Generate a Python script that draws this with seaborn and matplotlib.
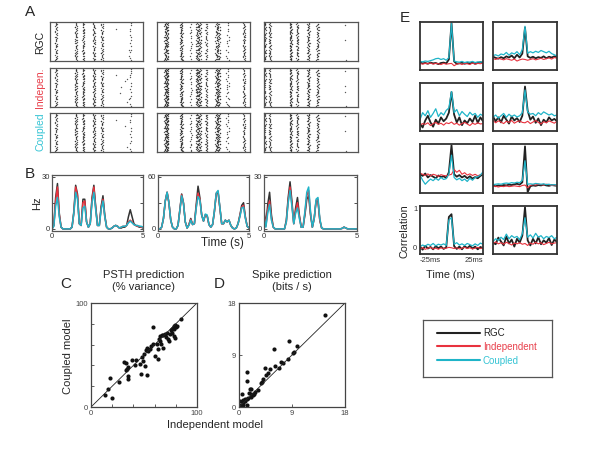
import numpy as np
import pandas as pd
import matplotlib
matplotlib.use('Agg')
import matplotlib.pyplot as plt
from matplotlib.lines import Line2D
import seaborn as sns

sns.set_style('white')
plt.rcParams['font.family'] = ['Liberation Sans', 'DejaVu Sans']

BLACK = '#222222'
RED = '#e8323e'
CYAN = '#1fb4c8'

# ---- A: raster stripes (time of each stripe, spikes per trial) ----
raster_times = [
    [0.32, 1.39, 1.79, 2.36, 2.79, 3.7, 4.32],
    [0.5, 1.31, 1.82, 2.22, 2.66, 3.26, 3.8, 4.68],
    [0.05, 0.3, 1.42, 1.78, 2.36, 2.85, 4.3],
]
raster_widths = [
    [0.06, 0.07, 0.06, 0.07, 0.07, 0.7, 0.07],
    [0.12, 0.07, 0.05, 0.15, 0.06, 0.13, 0.1, 0.07],
    [0.05, 0.06, 0.07, 0.06, 0.07, 0.07, 0.05],
]
raster_rgc = [
    [0.8, 0.9, 0.8, 0.9, 0.8, 0.05, 0.25],
    [1.8, 1.2, 0.3, 1.8, 0.6, 1.6, 0.3, 0.9],
    [0.8, 0.9, 1.2, 0.9, 1.0, 0.9, 0.05],
]
raster_ind = [
    [0.8, 1.0, 0.9, 1.0, 0.8, 0.2, 0.2],
    [2.2, 1.3, 0.3, 2.2, 0.7, 2.0, 0.4, 0.8],
    [0.6, 0.8, 1.1, 0.8, 1.1, 0.9, 0.08],
]
raster_cpl = [
    [0.8, 1.0, 0.9, 1.0, 0.8, 0.1, 0.2],
    [2.2, 1.3, 0.35, 2.0, 0.8, 2.0, 0.35, 0.8],
    [0.6, 0.8, 1.1, 0.8, 1.1, 0.9, 0.05],
]
JITTER = [-0.9, 0.3, -0.2, 0.8, -0.6, 0.0, 0.5, -0.4, 0.9, -0.1, 0.2, -0.7, 0.6, -0.3, 0.1]
N_TRIALS = 50

# ---- B: PSTH (Hz), sampled every 0.1 s from 0 to 5 s ----
psth_time = np.round(np.arange(51) * 0.1, 1)
psth_rgc = [
    [0, 2, 18, 26, 9, 1, 0, 0, 0, 0, 0, 1, 10, 25, 20, 3, 2, 17, 17, 4,
     1, 3, 18, 25, 13, 2, 2, 13, 19, 8, 1, 0, 0, 0.5, 1.5, 2, 1.5, 0.5, 0.5, 1,
     1, 2, 7, 11, 7, 3, 2, 1.5, 1, 1, 0.5],
    [0, 0, 2, 12, 32, 42, 30, 10, 2, 0, 0, 4, 22, 40, 30, 8, 1, 5, 12, 5,
     6, 28, 49, 36, 16, 9, 16, 15, 5, 2, 5, 20, 40, 42, 24, 6, 6, 10, 8, 10,
     4, 1, 0, 1, 6, 16, 27, 30, 14, 3, 1],
    [11, 2, 14, 21, 8, 1, 0, 0, 0, 0, 0, 0, 5, 18, 27, 16, 3, 12, 18, 8,
     1, 1, 8, 17, 19, 8, 1, 6, 16, 16, 5, 0.5, 0, 0, 0, 0, 0, 0, 0, 0,
     0, 0, 0.3, 1, 0.5, 0, 0, 0, 0, 0, 0],
]
psth_ind = [
    [0, 2, 16, 24, 8, 1, 0, 0, 0, 0, 0, 1, 9, 24, 19, 3, 2, 15, 16, 4,
     1, 3, 17, 24, 12, 2, 2, 12, 17, 7, 1, 0, 0, 0.5, 1.5, 2, 1.5, 0.5, 1, 1.5,
     1.5, 2, 4, 5, 4, 2.5, 2, 1.5, 1.5, 1, 1],
    [0, 0, 2, 12, 32, 42, 30, 10, 2, 0, 0, 4, 21, 39, 29, 8, 1, 5, 11, 5,
     6, 25, 41, 34, 16, 9, 16, 15, 5, 2, 5, 20, 41, 43, 24, 6, 6, 10, 8, 10,
     4, 1, 0, 1, 6, 15, 25, 27, 13, 3, 1],
    [9, 1.5, 11, 16, 6, 1, 0, 0, 0, 0, 0, 0, 4, 16, 24, 14, 3, 10, 15, 7,
     1, 1, 9, 19, 22, 9, 1, 6, 16, 17, 5, 0.5, 0, 0, 0, 0, 0, 0, 0, 0,
     0, 0, 0.3, 1, 0.5, 0, 0, 0, 0, 0, 0],
]
psth_cpl = [
    [0, 1.5, 13, 18, 7, 1, 0, 0, 0, 0, 0, 1, 9, 21, 17, 3, 2, 12, 13, 4,
     1, 3, 15, 21, 11, 2, 2, 11, 16, 7, 1, 0, 0, 0.5, 1.5, 2, 1.5, 0.5, 1, 1.5,
     1.5, 2, 3.5, 4.5, 3.5, 2.5, 2, 2, 1.5, 1.5, 1],
    [0, 0, 2, 12, 32, 42, 30, 10, 2, 0, 0, 4, 21, 38, 29, 8, 1, 4, 10, 5,
     6, 24, 37, 33, 16, 9, 17, 16, 5, 2, 5, 21, 41, 44, 25, 6, 6, 10, 8, 10,
     4, 1, 0, 1, 6, 14, 24, 25, 12, 3, 1],
    [7, 1, 9, 14, 5, 1, 0, 0, 0, 0, 0, 0, 4, 15, 22, 13, 3, 9, 12, 6,
     1, 1, 10, 21, 24, 10, 1, 6, 17, 18, 6, 0.5, 0, 0, 0, 0, 0, 0, 0, 0,
     0, 0, 0.3, 1, 0.5, 0, 0, 0, 0, 0, 0],
]
psth_ymax = [30, 60, 30]

# ---- C: PSTH prediction (% variance) ----
c_indep = [13.3, 19.4, 17.5, 16.2, 26.0, 31.1, 33.3, 32.7, 33.7, 34.6, 35.2, 35.2, 38.7, 42.9,
           41.9, 46.0, 47.3, 47.9, 49.5, 50.8, 52.7, 50.2, 51.7, 52.9, 54.0, 55.6, 56.5, 58.1,
           58.7, 60.0, 61.9, 62.9, 63.5, 64.1, 65.1, 66.0, 68.3, 65.1, 67.0, 68.3, 69.8, 70.8,
           71.7, 72.7, 73.7, 74.6, 75.2, 76.5, 77.1, 78.1, 78.7, 79.4, 78.4, 79.0, 80.3, 84.8,
           76.2, 81.0]
c_coupled = [11.7, 8.9, 27.9, 17.5, 24.4, 43.5, 42.5, 35.6, 36.5, 38.7, 30.2, 26.7, 44.8, 45.1,
             40.6, 41.3, 31.4, 47.9, 43.8, 39.0, 30.5, 51.4, 55.2, 57.1, 54.0, 55.6, 58.4, 77.1,
             60.3, 48.9, 60.3, 45.7, 56.2, 65.1, 63.5, 61.0, 57.1, 68.3, 68.9, 69.2, 70.5, 67.6,
             70.8, 65.1, 63.5, 69.8, 73.7, 74.6, 76.2, 74.6, 77.8, 78.7, 68.3, 66.0, 76.5, 84.8,
             71.4, 77.5]

# ---- D: spike prediction (bits / s) ----
d_indep = [14.6, 8.5, 5.9, 9.8, 9.1, 9.3, 8.4, 7.1, 7.4, 6.8, 6.1, 5.2, 4.4, 5.0, 4.5, 4.0, 3.9,
           3.8, 3.2, 1.4, 1.4, 0.5, 1.8, 2.1, 1.7, 2.0, 2.3, 2.6, 2.8, 1.5, 1.3, 1.0, 0.7, 0.6,
           0.3, 0.7, 1.3, 0.2, 1.1, 2.0]
d_coupled = [16.0, 11.4, 10.1, 10.6, 9.3, 9.5, 8.3, 7.8, 7.7, 6.8, 7.1, 6.5, 6.7, 5.8, 5.5, 4.8,
             4.4, 4.1, 3.0, 6.1, 4.5, 2.3, 3.2, 3.2, 2.5, 2.2, 2.0, 2.3, 2.6, 1.6, 1.4, 1.3, 1.2,
             0.7, 0.4, 0.4, 0.4, 1.0, 1.0, 1.8]

# ---- E: cross-correlations, -25..25 ms (25 samples) ----
corr_lag = np.linspace(-25, 25, 25)
corr_rgc = [
    [0.02, 0.00, 0.01, -0.01, 0.02, 0.00, 0.01, -0.02, 0.01, 0.02, 0.00, 0.10, 1.03, 0.05, -0.01, 0.00, 0.02, -0.01, 0.01, 0.00, 0.02, -0.01, 0.01, 0.03, 0.01],
    [0.17, 0.14, 0.12, 0.16, 0.13, 0.18, 0.15, 0.20, 0.13, 0.22, 0.15, 0.25, 0.92, 0.18, 0.14, 0.17, 0.13, 0.16, 0.14, 0.18, 0.13, 0.17, 0.15, 0.18, 0.16],
    [0.02, -0.08, 0.10, 0.22, 0.05, -0.06, 0.12, 0.02, 0.18, 0.08, 0.15, 0.30, 0.83, 0.25, 0.05, 0.18, -0.02, 0.10, 0.03, 0.15, 0.06, 0.22, 0.04, 0.18, 0.08],
    [0.20, 0.08, 0.18, 0.05, 0.22, 0.12, 0.02, 0.20, 0.10, 0.16, 0.06, 0.22, 0.97, 0.35, 0.12, 0.20, 0.04, 0.15, -0.02, 0.12, 0.05, 0.18, 0.10, 0.14, 0.08],
    [0.30, 0.26, 0.32, 0.22, 0.28, 0.24, 0.20, 0.27, 0.23, 0.25, 0.21, 0.35, 1.03, 0.30, 0.24, 0.28, 0.22, 0.26, 0.20, 0.25, 0.19, 0.23, 0.20, 0.26, 0.30],
    [0.01, 0.00, 0.02, 0.01, 0.03, 0.02, 0.04, 0.03, 0.05, 0.06, 0.04, 0.10, 1.00, -0.15, 0.00, 0.02, 0.01, 0.03, 0.02, 0.04, 0.02, 0.01, 0.03, 0.02, 0.01],
    [0.02, -0.06, 0.04, -0.03, 0.01, -0.05, 0.03, -0.02, 0.02, -0.04, 0.00, 0.78, 0.85, 0.03, -0.04, 0.02, -0.05, 0.03, -0.02, 0.04, -0.03, 0.02, -0.05, 0.01, -0.02],
    [0.12, 0.08, 0.25, 0.15, 0.05, 0.28, 0.10, 0.20, 0.02, 0.22, 0.12, 0.30, 1.03, 0.18, 0.05, 0.22, 0.10, 0.26, 0.08, 0.18, 0.12, 0.24, 0.06, 0.20, 0.14],
]
corr_cpl = [
    [0.05, 0.04, 0.06, 0.05, 0.07, 0.09, 0.12, 0.13, 0.10, 0.12, 0.08, 0.15, 1.02, 0.06, 0.04, 0.03, 0.05, 0.02, 0.04, 0.03, 0.05, 0.02, 0.04, 0.03, 0.05],
    [0.20, 0.22, 0.19, 0.24, 0.22, 0.28, 0.21, 0.27, 0.24, 0.30, 0.22, 0.35, 0.95, 0.26, 0.30, 0.27, 0.31, 0.28, 0.33, 0.30, 0.27, 0.31, 0.25, 0.22, 0.19],
    [0.12, 0.30, 0.22, 0.35, 0.18, 0.28, 0.40, 0.20, 0.30, 0.24, 0.36, 0.42, 0.84, 0.30, 0.38, 0.22, 0.33, 0.26, 0.20, 0.31, 0.24, 0.28, 0.18, 0.26, 0.22],
    [0.18, 0.24, 0.16, 0.22, 0.28, 0.18, 0.26, 0.20, 0.24, 0.19, 0.22, 0.30, 0.88, 0.32, 0.26, 0.28, 0.22, 0.30, 0.25, 0.32, 0.28, 0.24, 0.27, 0.22, 0.24],
    [0.28, 0.15, 0.05, 0.12, 0.18, 0.14, 0.20, 0.15, 0.22, 0.17, 0.19, 0.30, 0.78, 0.22, 0.16, 0.20, 0.14, 0.18, 0.12, 0.20, 0.15, 0.22, 0.24, 0.28, 0.36],
    [0.04, 0.05, 0.06, 0.05, 0.07, 0.08, 0.07, 0.09, 0.08, 0.10, 0.09, 0.15, 0.64, 0.05, 0.06, 0.05, 0.07, 0.06, 0.05, 0.06, 0.04, 0.05, 0.03, 0.04, 0.03],
    [0.02, 0.06, 0.03, 0.08, 0.05, 0.10, 0.04, 0.08, 0.06, 0.09, 0.05, 0.70, 0.76, 0.08, 0.12, 0.06, 0.09, 0.05, 0.10, 0.07, 0.04, 0.09, 0.05, 0.11, 0.08],
    [0.15, 0.22, 0.18, 0.26, 0.20, 0.34, 0.22, 0.30, 0.25, 0.28, 0.20, 0.35, 0.76, 0.26, 0.32, 0.24, 0.36, 0.26, 0.30, 0.22, 0.28, 0.25, 0.30, 0.22, 0.26],
]
corr_ind = [
    [0.00, -0.02, 0.00, -0.01, 0.01, -0.02, 0.00, -0.01, -0.03, 0.00, -0.02, -0.01, 0.00, -0.06, -0.02, 0.00, -0.03, 0.00, -0.01, -0.03, 0.01, -0.02, 0.00, -0.01, 0.01],
    [0.12, 0.10, 0.13, 0.11, 0.09, 0.12, 0.10, 0.08, 0.11, 0.06, 0.09, 0.11, 0.10, 0.08, 0.10, 0.12, 0.09, 0.11, 0.13, 0.10, 0.12, 0.14, 0.11, 0.15, 0.13],
    [-0.02, 0.02, 0.00, 0.04, -0.03, 0.02, 0.05, 0.00, 0.03, -0.02, 0.04, 0.02, 0.06, 0.00, 0.03, -0.02, 0.02, 0.05, 0.01, -0.03, 0.03, 0.00, 0.04, 0.01, 0.02],
    [0.10, 0.04, 0.09, 0.06, 0.02, 0.08, 0.05, 0.10, 0.03, 0.07, 0.09, 0.05, 0.04, 0.08, 0.02, 0.06, 0.10, 0.05, 0.01, 0.07, 0.04, 0.09, 0.06, 0.03, 0.08],
    [0.33, 0.30, 0.27, 0.31, 0.26, 0.30, 0.28, 0.25, 0.29, 0.27, 0.26, 0.28, 0.30, 0.42, 0.35, 0.40, 0.30, 0.34, 0.28, 0.31, 0.27, 0.30, 0.26, 0.29, 0.31],
    [-0.01, 0.00, -0.02, 0.00, -0.01, 0.01, -0.01, 0.00, 0.01, 0.00, -0.01, 0.02, 0.03, -0.04, 0.02, 0.04, 0.03, 0.05, 0.04, 0.03, 0.05, 0.04, 0.02, 0.03, 0.02],
    [-0.04, -0.01, -0.05, -0.02, 0.00, -0.04, -0.02, -0.05, -0.01, -0.03, -0.02, 0.00, -0.01, -0.03, -0.01, -0.04, -0.02, 0.00, -0.03, -0.01, -0.04, -0.02, 0.00, -0.03, -0.01],
    [0.10, 0.14, 0.09, 0.12, 0.08, 0.13, 0.10, 0.06, 0.11, 0.09, 0.12, 0.08, 0.10, 0.05, 0.11, 0.08, 0.13, 0.09, 0.12, 0.07, 0.10, 0.13, 0.09, 0.11, 0.12],
]

legend_labels = ['RGC', 'Independent', 'Coupled']

W, H = 600, 455
fig = plt.figure(figsize=(6, 4.55), dpi=100)


def box(l, t, r, b):
    return fig.add_axes([l / W, 1 - b / H, (r - l) / W, (b - t) / H])


def label(x, y, s, **kw):
    fig.text(x / W, 1 - y / H, s, ha='center', va='center', **kw)


def frame(ax, lw=0.8, color='#444444'):
    for sp in ax.spines.values():
        sp.set_visible(True)
        sp.set_linewidth(lw)
        sp.set_color(color)


def raster_frame(times, widths, counts):
    rows = []
    for j, (t, w, c) in enumerate(zip(times, widths, counts)):
        for k in range(N_TRIALS):
            n = int(c) + (1 if ((k * 37 + j * 17) % 100) / 100 < c - int(c) else 0)
            for m in range(n):
                off = JITTER[(k * 7 + j * 3 + m * 5) % len(JITTER)]
                rows.append((t + w * off, k))
    return pd.DataFrame(rows, columns=['time', 'trial'])


# Panel A
col_x = [(50, 143), (157, 250), (264, 358)]
row_y = [(22, 61), (68, 107), (113, 152)]
for r, dens in enumerate([raster_rgc, raster_ind, raster_cpl]):
    for c in range(3):
        ax = box(col_x[c][0], row_y[r][0], col_x[c][1], row_y[r][1])
        df = raster_frame(raster_times[c], raster_widths[c], dens[c])
        sns.scatterplot(data=df, x='time', y='trial', ax=ax, s=1.0, marker='o',
                        color='#222222', linewidth=0, alpha=0.75, legend=False)
        ax.set_xlim(0, 5)
        ax.set_ylim(-1, N_TRIALS)
        ax.set_xticks([])
        ax.set_yticks([])
        ax.set_xlabel('')
        ax.set_ylabel('')
        frame(ax, 0.9, '#555555')

label(30, 12, 'A', fontsize=11)
label(40, 42, 'RGC', fontsize=7.5, rotation=90, color=BLACK)
label(40, 88, 'Indepen.', fontsize=7.5, rotation=90, color='#e8404c')
label(40, 132, 'Coupled', fontsize=7.5, rotation=90, color='#35c4d4')

# Panel B
b_x = [(52, 143), (158, 249), (264, 357)]
for c in range(3):
    ax = box(b_x[c][0], 175, b_x[c][1], 231)
    for vals, col, lw in [(psth_rgc[c], '#333333', 1.1), (psth_ind[c], RED, 1.1),
                          (psth_cpl[c], CYAN, 1.1)]:
        sns.lineplot(x=psth_time, y=vals, ax=ax, color=col, linewidth=lw, estimator=None)
    ym = psth_ymax[c]
    ax.set_xlim(0, 5)
    ax.set_ylim(-ym * 0.04, ym * 1.03)
    ax.set_yticks([0, ym / 2, ym])
    ax.set_yticklabels(['0', '', str(ym)])
    ax.set_xticks([0, 5])
    ax.set_xticklabels(['0', '5'])
    ax.tick_params(direction='in', length=2, width=0.6, labelsize=5.5, pad=1.5,
                   right=True, left=True, bottom=True, colors='#333333')
    ax.set_xlabel('')
    ax.set_ylabel('')
    frame(ax, 0.9, '#555555')

label(30, 174, 'B', fontsize=11)
label(37, 203, 'Hz', fontsize=8, rotation=90)
label(222, 243, 'Time (s)', fontsize=8.5)

# Panels C and D
for (l, r), xs, ys, top, ticks, minor in [((91, 197), c_indep, c_coupled, 100, [0, 100], 20),
                                          ((239, 345), d_indep, d_coupled, 18, [0, 9, 18], 9)]:
    ax = box(l, 303, r, 407)
    ax.plot([0, top], [0, top], color=BLACK, lw=0.6)
    sns.scatterplot(x=xs, y=ys, ax=ax, s=9, color='#111111', linewidth=0, legend=False)
    ax.set_xlim(0, top)
    ax.set_ylim(0, top)
    ax.set_xticks(np.arange(0, top + 0.1, minor))
    ax.set_yticks(np.arange(0, top + 0.1, minor))
    lab = [str(int(v)) if v in ticks else '' for v in np.arange(0, top + 0.1, minor)]
    ax.set_xticklabels(lab)
    ax.set_yticklabels(lab)
    ax.tick_params(direction='in', length=2, width=0.6, labelsize=5.5, pad=2,
                   left=True, bottom=True, colors='#444444')
    frame(ax, 0.9, '#444444')

label(66, 284, 'C', fontsize=11)
label(219, 284, 'D', fontsize=11)
label(144, 281, 'PSTH prediction\n(% variance)', fontsize=8, linespacing=1.2)
label(292, 281, 'Spike prediction\n(bits / s)', fontsize=8, linespacing=1.2)
label(68, 356, 'Coupled model', fontsize=8, rotation=90)
label(215, 425, 'Independent model', fontsize=8)

# Panel E
e_x = [(420, 483), (493, 557)]
e_y = [(22, 70), (83, 131), (144, 193), (206, 254)]
for i in range(8):
    r, c = divmod(i, 2)
    ax = box(e_x[c][0], e_y[r][0], e_x[c][1], e_y[r][1])
    sns.lineplot(x=corr_lag, y=corr_rgc[i], ax=ax, color=BLACK, linewidth=1.3, estimator=None)
    sns.lineplot(x=corr_lag, y=corr_ind[i], ax=ax, color=RED, linewidth=0.8, estimator=None)
    sns.lineplot(x=corr_lag, y=corr_cpl[i], ax=ax, color=CYAN, linewidth=0.9, estimator=None)
    ax.set_xlim(-25, 25)
    ax.set_ylim(-0.17, 1.06)
    ax.set_xlabel('')
    ax.set_ylabel('')
    if i == 6:
        ax.set_yticks([0, 1])
        ax.set_yticklabels(['0', '1'])
        ax.set_xticks([-25, 25])
        ax.set_xticklabels(['-25ms', '25ms'])
        xl = ax.get_xticklabels()
        xl[0].set_ha('left')
        xl[1].set_ha('right')
        ax.tick_params(length=0, labelsize=5.5, pad=2, colors='#333333')
    else:
        ax.set_xticks([])
        ax.set_yticks([])
    frame(ax, 1.3, '#333333')

label(405, 18, 'E', fontsize=11)
label(405, 231, 'Correlation', fontsize=7.8, rotation=90)
label(450, 275, 'Time (ms)', fontsize=7.8)

# Legend box
ax_leg = box(423, 320, 552, 377)
ax_leg.set_xticks([])
ax_leg.set_yticks([])
frame(ax_leg, 0.9, '#555555')
handles = [Line2D([], [], color=col, lw=1.5) for col in [BLACK, RED, CYAN]]
leg = ax_leg.legend(handles, legend_labels, loc='upper left', bbox_to_anchor=(0.11, 0.86),
                    frameon=False, borderpad=0, borderaxespad=0, fontsize=7,
                    handlelength=4.4, handletextpad=0.3, labelspacing=0.4)
for txt, col in zip(leg.get_texts(), [BLACK, '#e8404c', '#35c4d4']):
    txt.set_color(col)

fig.savefig('out.png', dpi=100)
